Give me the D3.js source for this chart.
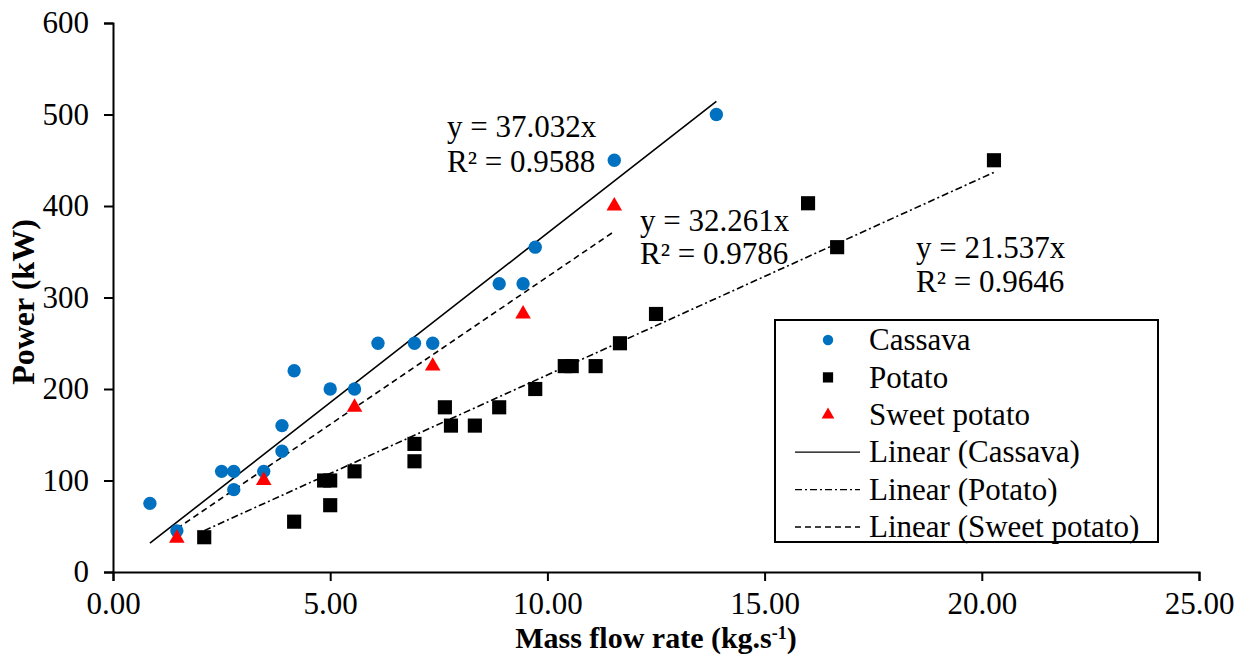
<!DOCTYPE html>
<html>
<head>
<meta charset="utf-8">
<script src="https://cdn.jsdelivr.net/npm/d3@7"></script>
<style>
  body { margin: 0; background: #fff; }
  svg { display: block; font-family: "Liberation Serif", "Times New Roman", serif; }
</style>
</head>
<body>
<svg width="1243" height="657"></svg>
<script>
// mass flow rate (kg/s) and power (kW) for each crop
var cassavaX = [0.85, 1.47, 2.5, 2.78, 2.78, 3.47, 3.89, 3.89, 4.17, 5.0, 5.56, 6.1, 6.94, 7.36, 8.89, 9.44, 9.72, 11.54, 13.89];
var cassavaY = [75, 45, 110, 110, 90, 110, 132, 160, 220, 200, 200, 250, 250, 250, 315, 315, 355, 450, 500];

var potatoX = [2.1, 4.17, 4.86, 5.0, 5.0, 5.56, 6.94, 6.94, 7.64, 7.78, 8.33, 8.89, 9.72, 10.4, 10.56, 11.11, 11.67, 12.5, 16.0, 16.67, 20.28];
var potatoY = [38, 55, 100, 100, 73, 110, 140, 121, 180, 160, 160, 180, 200, 225, 225, 225, 250, 282, 403, 355, 450];

var sweetX = [1.47, 3.47, 5.56, 7.36, 9.44, 11.54];
var sweetY = [37, 100, 180, 225, 282, 400];

// trendline slopes (forced through origin) and their labels
var slopes = [37.032, 21.537, 32.261];
var eqLabels = ["y = 37.032x", "y = 21.537x", "y = 32.261x"];
var r2Labels = ["R² = 0.9588", "R² = 0.9646", "R² = 0.9786"];

var xTicks = [0, 5, 10, 15, 20, 25];
var yTicks = [0, 100, 200, 300, 400, 500, 600];

var legendNames = ["Cassava", "Potato", "Sweet potato", "Linear (Cassava)", "Linear (Potato)", "Linear (Sweet potato)"];

var svg = d3.select("svg");

var x = d3.scaleLinear().domain([0, 25]).range([113, 1199]);
var y = d3.scaleLinear().domain([0, 600]).range([572, 23]);

var series = [
    {xs: cassavaX, ys: cassavaY, shape: d3.symbolCircle, size: 140, color: "#0070C0", dash: null},
    {xs: potatoX, ys: potatoY, shape: d3.symbolSquare, size: 200, color: "#000000", dash: "7,3,2,3"},
    {xs: sweetX, ys: sweetY, shape: d3.symbolTriangle, size: 105, color: "#FF0000", dash: "6,4"}
];

// axes
var xAxis = d3.axisBottom(x).tickValues(xTicks).tickFormat(d3.format(".2f"))
    .tickSize(9).tickSizeOuter(9).tickPadding(11);
var yAxis = d3.axisLeft(y).tickValues(yTicks)
    .tickSize(9).tickSizeOuter(9).tickPadding(15);

var gx = svg.append("g").attr("transform", "translate(0,572)").call(xAxis);
var gy = svg.append("g").attr("transform", "translate(113,0)").call(yAxis);

[gx, gy].forEach(function(g) {
    g.selectAll("path, line").attr("stroke", "#000").attr("stroke-width", 2);
    g.selectAll("text").attr("fill", "#000").style("font-size", "31px")
        .style("font-family", "'Liberation Serif', 'Times New Roman', serif");
});

// axis titles
var xt = svg.append("text")
    .attr("x", 656).attr("y", 648)
    .attr("text-anchor", "middle")
    .style("font-size", "30px").style("font-weight", "bold");
xt.append("tspan").text("Mass flow rate (kg.s");
xt.append("tspan").attr("dy", -9).style("font-size", "18px").text("-1");
xt.append("tspan").attr("dy", 9).text(")");

svg.append("text")
    .attr("transform", "translate(34,302) rotate(-90)")
    .attr("text-anchor", "middle")
    .style("font-size", "32px").style("font-weight", "bold")
    .text("Power (kW)");

// trendlines from min x to max x of each series
series.forEach(function(s, i) {
    var x0 = d3.min(s.xs), x1 = d3.max(s.xs);
    svg.append("line")
        .attr("x1", x(x0)).attr("y1", y(slopes[i] * x0))
        .attr("x2", x(x1)).attr("y2", y(slopes[i] * x1))
        .attr("stroke", "#000").attr("stroke-width", 1.6)
        .attr("stroke-dasharray", s.dash);
});

// markers
series.forEach(function(s) {
    svg.append("g").selectAll("path")
        .data(d3.range(s.xs.length))
        .enter().append("path")
        .attr("d", d3.symbol().type(s.shape).size(s.size))
        .attr("transform", function(i) { return "translate(" + x(s.xs[i]) + "," + y(s.ys[i]) + ")"; })
        .attr("fill", s.color);
});

// trendline equation labels
var labelPos = [[447, 137, 172], [916, 258, 292], [640, 231, 264]];
labelPos.forEach(function(p, i) {
    var t = svg.append("text").style("font-size", "31px");
    t.append("tspan").attr("x", p[0]).attr("y", p[1]).text(eqLabels[i]);
    t.append("tspan").attr("x", p[0]).attr("y", p[2]).text(r2Labels[i]);
});

// legend
var legend = svg.append("g");
legend.append("rect")
    .attr("x", 775).attr("y", 320).attr("width", 383).attr("height", 222)
    .attr("fill", "#fff").attr("stroke", "#000").attr("stroke-width", 2);

var legendSizes = [85, 105, 70];
legendNames.forEach(function(name, i) {
    var cy = 340 + i * 37.4;
    if (i < 3) {
        legend.append("path")
            .attr("d", d3.symbol().type(series[i].shape).size(legendSizes[i]))
            .attr("transform", "translate(828," + cy + ")")
            .attr("fill", series[i].color);
    } else {
        legend.append("line")
            .attr("x1", 795).attr("x2", 860).attr("y1", cy).attr("y2", cy)
            .attr("stroke", "#000").attr("stroke-width", 1.3)
            .attr("stroke-dasharray", series[i - 3].dash);
    }
    legend.append("text")
        .attr("x", 869).attr("y", cy).attr("dy", "0.33em")
        .style("font-size", "31px")
        .text(name);
});
</script>
</body>
</html>
